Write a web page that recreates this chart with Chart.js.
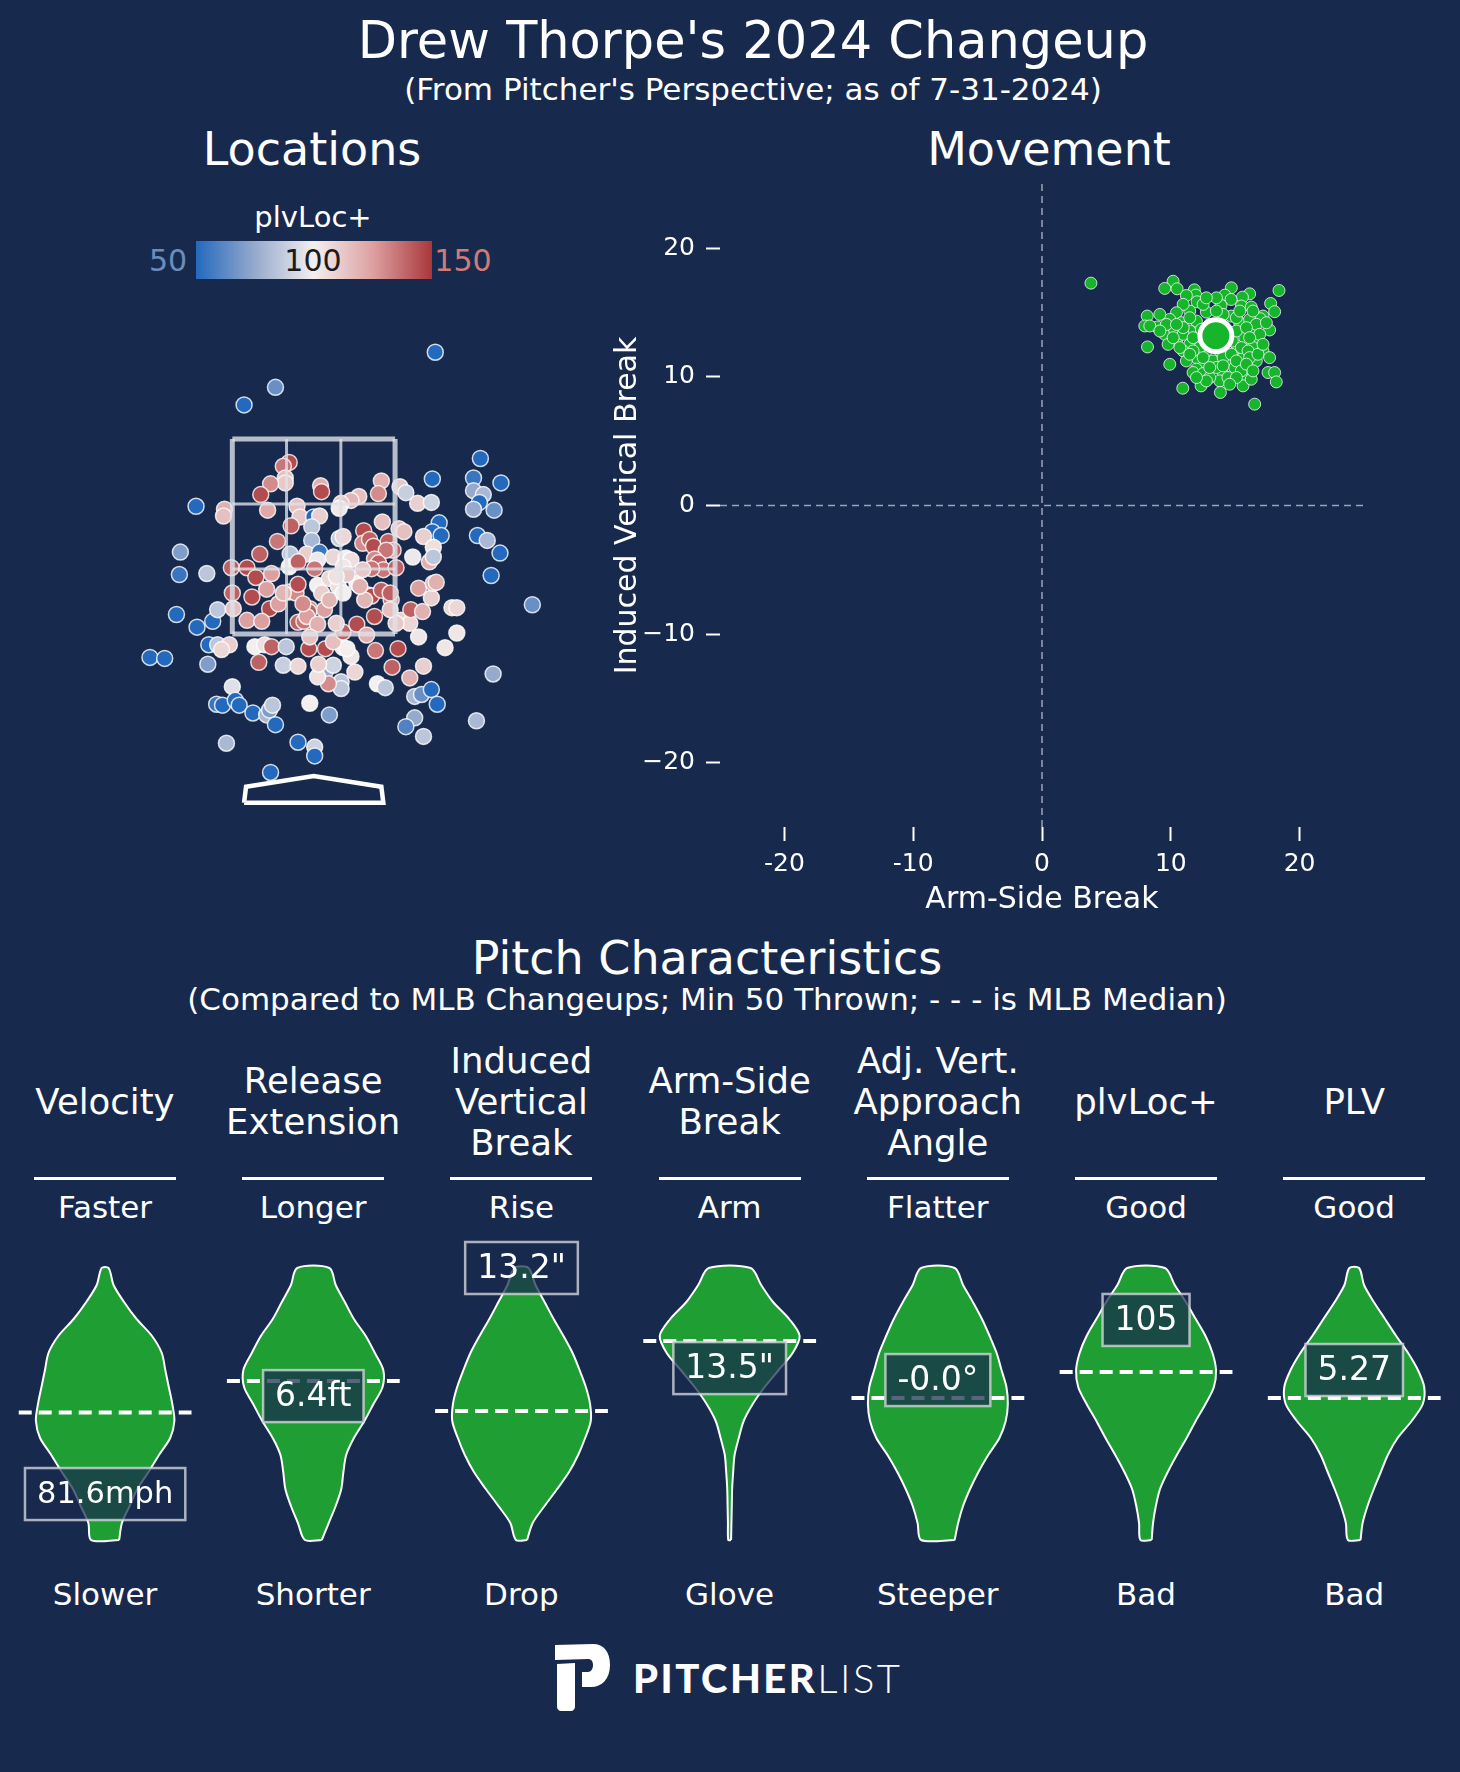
<!DOCTYPE html>
<html>
<head>
<meta charset="utf-8">
<script src="https://cdn.jsdelivr.net/npm/chart.js@4.4.1/dist/chart.umd.min.js"></script>
<style>
html, body { margin: 0; padding: 0; background: #172a4e; }
#page { position: relative; width: 1460px; height: 1772px; background: #172a4e; overflow: hidden; font-family: "DejaVu Sans", sans-serif; color: #fff; }
.t { position: absolute; transform: translate(-50%, -50%); white-space: pre; text-align: center; line-height: 1.15; }
canvas { position: absolute; }
.rule { position: absolute; height: 3px; width: 142px; background: #fff; transform: translateX(-50%); }
</style>
</head>
<body>
<div id="page">
  <div class="t" style="left:753px;top:41px;font-size:51px">Drew Thorpe's 2024 Changeup</div>
  <div class="t" style="left:753px;top:90px;font-size:31px">(From Pitcher's Perspective; as of 7-31-2024)</div>
  <div class="t" style="left:312px;top:149px;font-size:46px">Locations</div>
  <div class="t" style="left:1049px;top:149px;font-size:46px">Movement</div>

  <div class="t" style="left:313px;top:218px;font-size:29px">plvLoc+</div>
  <div id="cbar" style="position:absolute;left:196px;top:241px;width:236px;height:38px"></div>
  <div class="t" style="left:168px;top:261px;font-size:30px;color:#6c8cbd">50</div>
  <div class="t" style="left:313px;top:261px;font-size:30px;color:#1b1b1b">100</div>
  <div class="t" style="left:463px;top:261px;font-size:30px;color:#cf7b78">150</div>

  <canvas id="locChart" width="451" height="507" style="left:98px;top:322px"></canvas>
  <canvas id="movChart" width="770" height="760" style="left:610px;top:170px"></canvas>

  <div class="t" style="left:707px;top:958px;font-size:46px">Pitch Characteristics</div>
  <div class="t" style="left:707px;top:1000px;font-size:31px">(Compared to MLB Changeups; Min 50 Thrown; - - - is MLB Median)</div>

  <div id="bottomText"></div>
  <canvas id="violinChart" width="1460" height="330" style="left:0px;top:1230px"></canvas>

  <svg style="position:absolute;left:553px;top:1644px" width="58" height="68" viewBox="0 0 58 68">
    <path fill="#fff" d="M2,1 L40,0 C51,0 57,8 57,21 C57,35 49,43 38,43 L29,43 L29,28 L35,28 C38,28 40,25 40,21 C40,17 38,15 35,15 L2,16 Z"/>
    <path fill="#fff" d="M4,20 L22,19 L22,63 C22,65 20,67 18,67 L8,67 C6,67 4,65 4,63 Z"/>
  </svg>
  <div style="position:absolute;left:633px;top:1654px;font-family:Lato,'Open Sans',sans-serif;font-size:40px;letter-spacing:2.5px;line-height:48px;white-space:pre"><span style="font-weight:900">PITCHER</span><span style="font-weight:300">LIST</span></div>
</div>

<script>
// ---- pitch locations (feet) ----
const locX = [
  1.24, -0.39, -0.71, 1.70, 1.21, 1.63, 1.91, 1.63, 1.73, 1.69, 1.63, 1.84, 1.28, 1.21, 1.30, 1.67, 1.77, 1.90, 1.81, 2.23,
  -1.20, -1.36, -1.37, -1.09, -1.40, -1.19, -1.03, -0.98, -1.07, -1.67, -1.52, -1.08, -0.98,
  -0.83, -0.99, -0.93, -0.80, -0.76, -0.62, -0.48, -0.45, -0.42, -0.39, -0.89, -0.16, 0.01, 0.01, -0.44, -0.04, 0.16,
  0.28, 0.28, 0.12, 0.20, 0.42, 0.15, 0.04, 0.65, 0.73, 1.03, 1.10, 1.20, 1.26, 1.03, 0.94, 1.12, 1.66, 1.83,
  1.12, 0.98, 0.80, 0.63, 0.86, 1.07, 1.34, 1.46, 1.41, 1.46, 0.89, 0.98, 0.84,
  -0.60, -0.50, -0.43, -0.28, -0.56, -0.31, -0.16, -0.86, -0.94, -0.05, 0.12, 0.30, 0.38, 0.34, 0.20, 0.30, 0.44, 0.54, 0.05,
  -0.25, -0.31, -0.29, -0.29, -0.44, -0.54, 0.07, 0.08, 0.69, 0.66, 0.88, 0.94, 0.46, 0.38, 0.28, 0.26, 1.06, 1.20,
  -0.91, -0.92, -0.47, -0.17, -0.14, 0.00, 0.06,
  -0.02, -0.23, 0.70, 0.87, 0.92, 0.51, 1.12, 1.22, -0.37, -0.02, 0.26, 0.30, 0.50, 0.57, 0.61, 0.76, 0.81, 0.74,
  -0.55, -0.24, -0.07, 0.06, 0.20, 0.04, 0.33, 0.38, 0.62, 0.66, 1.01, 1.18, 1.22,
  -0.84, -0.68, -0.59, -0.43, -0.25, -0.16, 0.01, 0.30, 0.71, 0.84, 0.59,
  -0.83, -0.63, -0.48, -0.25, -0.18, -0.16, 0.04, 0.08, 0.16, 0.25, 0.44, 0.34, 0.56, 0.59, 0.52, 0.69, 0.79, 0.78,
  1.07, 1.20, 1.22, 1.25, -0.82, -0.45, -0.36, -0.04, -0.05, 0.11, 0.16, 0.30, 0.99, 1.11,
  -0.68, -0.53, -0.16, -0.10, -0.07, 0.04, 0.62, 0.78, -0.04, 0.23, 0.47, 0.50, -0.11, -0.31, 0.23
];
const locZ = [
  4.39, 4.03, 3.85, 3.30, 3.09, 3.10, 3.05, 2.97, 2.93, 2.85, 2.78, 2.77, 2.64, 2.55, 2.51, 2.51, 2.46, 2.33, 2.10, 1.80,
  2.81, 2.34, 2.11, 2.12, 1.70, 1.57, 1.63, 1.75, 1.39, 1.26, 1.25, 1.19, 1.39,
  0.96, 0.78, 0.77, 0.82, 0.77, 0.69, 0.67, 0.72, 0.77, 0.57, 0.38, 0.39, 0.34, 0.25, 0.08, 0.79, 0.67,
  1.01, 0.94, 1.12, 1.18, 1.11, 0.99, 1.06, 0.99, 0.95, 0.86, 0.88, 0.93, 0.78, 0.64, 0.55, 0.45, 0.61, 1.09,
  1.17, 1.05, 1.16, 1.33, 1.35, 1.47, 1.36, 1.51, 1.77, 1.77, 1.64, 1.61, 1.61,
  1.37, 1.39, 1.37, 1.37, 1.21, 1.18, 1.17, 1.39, 1.34, 1.35, 1.35, 1.36, 1.27, 1.35, 1.42, 1.52, 1.60, 1.49, 1.19,
  3.26, 3.22, 3.10, 3.05, 3.04, 2.93, 3.02, 2.96, 3.07, 2.94, 3.01, 2.95, 2.91, 2.87, 2.84, 2.79, 2.84, 2.85,
  2.78, 2.71, 2.77, 2.81, 2.70, 2.70, 2.71,
  2.60, 2.61, 2.65, 2.58, 2.55, 2.56, 2.50, 2.39, 2.45, 2.46, 2.48, 2.50, 2.43, 2.47, 2.40, 2.45, 2.36, 2.36,
  2.32, 2.32, 2.32, 2.34, 2.29, 2.26, 2.28, 2.26, 2.27, 2.23, 2.29, 2.24, 2.29,
  2.18, 2.18, 2.08, 2.12, 2.19, 2.24, 2.17, 2.19, 2.16, 2.18, 2.17,
  1.92, 1.88, 1.96, 1.93, 1.92, 2.01, 2.00, 1.92, 2.07, 1.99, 2.02, 2.11, 1.90, 1.89, 1.85, 1.95, 1.85, 1.92,
  1.97, 1.87, 2.02, 2.03, 1.76, 1.76, 1.81, 1.76, 1.73, 1.75, 1.85, 1.92, 1.75, 1.73,
  1.64, 1.63, 1.62, 1.63, 1.68, 1.60, 1.68, 1.75, 1.47, 2.09, 1.99, 2.16, 1.81, 1.92, 1.61
];
const locPlv = [
  50, 65, 50, 50, 50, 55, 50, 75, 80, 50, 75, 65, 50, 50, 50, 50, 80, 50, 50, 65,
  50, 70, 55, 85, 50, 50, 50, 85, 50, 50, 50, 70, 85,
  95, 55, 50, 50, 50, 50, 80, 70, 85, 50, 80, 50, 90, 50, 50, 100, 70,
  85, 85, 75, 90, 108, 130, 105, 100, 85, 80, 65, 50, 50, 75, 60, 85, 80, 75,
  110, 120, 140, 135, 145, 103, 103, 103, 108, 108, 110, 108, 112,
  100, 105, 140, 85, 140, 88, 108, 110, 108, 145, 145, 100, 103, 100, 115, 140, 145, 120, 110,
  145, 135, 115, 112, 130, 145, 120, 145, 120, 130, 112, 88, 115, 118, 112, 102, 110, 90,
  120, 115, 122, 115, 112, 50, 110,
  85, 140, 115, 118, 115, 145, 110, 105, 135, 80, 88, 108, 130, 140, 145, 140, 140, 135,
  140, 85, 110, 55, 108, 98, 100, 105, 130, 140, 98, 120, 85,
  140, 145, 145, 125, 100, 140, 135, 102, 135, 140, 135,
  140, 145, 125, 125, 130, 145, 100, 110, 108, 105, 100, 112, 130, 145, 118, 140, 135, 140,
  125, 110, 120, 120, 115, 145, 125, 130, 140, 125, 118, 100, 140, 120,
  125, 125, 140, 135, 125, 120, 145, 115, 115, 104, 120, 112, 130, 118, 110
];
const zoneX = [-0.83, -0.277, 0.277, 0.83];
const zoneZ = [1.5, 2.167, 2.833, 3.5];
const plateX = [-0.71, 0.71, 0.69, 0, -0.69, -0.71];
const plateZ = [-0.23, -0.23, -0.066, 0.044, -0.066, -0.23];

// ---- movement (inches) ----
const armSideBreak = [
  3.80, 10.18, 9.53, 10.49, 11.83, 11.94, 11.21, 12.04, 14.70, 14.19, 16.12, 15.56, 18.40, 14.68, 13.90, 15.48, 16.25, 17.75,
  18.06, 17.16, 16.95, 12.76, 11.47, 10.96, 10.44, 9.92, 9.15, 8.17, 7.98, 8.94, 9.53, 10.31, 10.83, 11.99, 11.47, 16.38,
  17.67, 15.35, 14.70, 16.12, 15.74, 16.64, 16.38, 17.16, 15.09, 14.44, 15.61, 16.12, 16.64, 14.06, 14.96, 15.87, 13.80,
  14.44, 13.28, 12.51, 11.99, 11.47, 10.96, 11.21, 11.99, 11.73, 12.51, 13.02, 13.54, 15.61, 16.25, 17.55, 18.06, 18.19,
  16.51, 13.85, 12.35, 10.93, 9.92, 8.19, 10.44, 10.70, 9.79, 12.76, 8.37, 13.80, 13.02, 12.76, 16.64, 16.90, 14.78, 15.09,
  10.96, 11.73, 12.38, 12.25, 11.73, 12.51, 14.06, 14.70, 15.48, 16.00, 15.09, 16.12, 16.77, 17.16, 17.42, 15.87, 15.09,
  14.06, 13.54, 12.51, 11.47, 10.96, 10.18, 9.66, 11.47, 13.02, 14.06, 15.48, 15.09, 14.57, 15.87, 16.38, 12.76, 11.99,
  17.67, 16.12, 15.35, 16.38, 13.54, 12.76, 10.44, 9.15
];
const inducedVertBreak = [
  17.29, 17.44, 16.88, 16.85, 16.77, 16.36, 16.33, 15.84, 16.93, 16.36, 16.46, 16.20, 16.72, 16.02, 15.56, 15.51, 15.43, 15.71,
  15.07, 14.73, 14.52, 15.04, 15.12, 15.64, 14.99, 14.47, 14.86, 14.73, 13.96, 13.88, 13.31, 13.57, 14.21, 14.34, 13.57, 13.70,
  13.65, 14.21, 14.73, 14.47, 13.05, 12.79, 12.28, 12.02, 12.02, 11.24, 11.50, 10.73, 11.24, 10.21, 10.73, 9.95, 9.69,
  9.95, 11.24, 10.86, 11.50, 12.53, 12.02, 11.24, 10.60, 10.34, 10.26, 9.95, 10.73, 9.30, 9.82, 10.34, 10.34, 9.61,
  7.88, 8.79, 9.30, 9.12, 10.98, 12.33, 12.79, 12.28, 12.53, 12.02, 13.96, 12.02, 14.09, 12.79, 14.09, 13.31, 12.79, 13.57,
  13.31, 13.05, 13.70, 12.28, 12.02, 11.50, 11.50, 11.76, 12.28, 12.02, 11.24, 11.50, 11.76, 12.53, 14.21, 13.83, 14.60,
  14.86, 15.12, 15.64, 14.60, 13.83, 13.05, 14.08, 11.76, 10.73, 10.86, 10.47, 9.95, 9.43, 10.99, 10.47, 9.69, 9.95,
  11.50, 13.05, 15.12, 15.12, 16.15, 16.15, 14.08, 13.57
];
const meanArmSide = 13.5;
const meanIVB = 13.2;
const moveTicks = [-20, -10, 0, 10, 20];

// ---- pitch characteristic violins ----
const metricNames = ['Velocity', 'Release\nExtension', 'Induced\nVertical\nBreak', 'Arm-Side\nBreak', 'Adj. Vert.\nApproach\nAngle', 'plvLoc+', 'PLV'];
const topLabels = ['Faster', 'Longer', 'Rise', 'Arm', 'Flatter', 'Good', 'Good'];
const bottomLabels = ['Slower', 'Shorter', 'Drop', 'Glove', 'Steeper', 'Bad', 'Bad'];
const valueLabels = ['81.6mph', '6.4ft', '13.2"', '13.5"', '-0.0°', '105', '5.27'];
const valueLevels = [0.169, 0.529, 1.0, 0.632, 0.588, 0.809, 0.625];
const medianLevels = [0.469, 0.585, 0.474, 0.732, 0.522, 0.618, 0.522];
const violinLevels = [0, 0.0625, 0.125, 0.1875, 0.25, 0.3125, 0.375, 0.4375, 0.5, 0.5625, 0.625, 0.6875, 0.75, 0.8125, 0.875, 0.9375, 1];
const violinWidths = [
  [0.20, 0.24, 0.35, 0.46, 0.62, 0.77, 0.93, 0.99, 0.96, 0.91, 0.86, 0.81, 0.67, 0.45, 0.27, 0.12, 0.05],
  [0.12, 0.22, 0.32, 0.40, 0.43, 0.47, 0.58, 0.73, 0.86, 0.99, 1.00, 0.88, 0.75, 0.58, 0.45, 0.32, 0.23],
  [0.08, 0.16, 0.33, 0.51, 0.68, 0.81, 0.91, 0.99, 0.98, 0.92, 0.83, 0.73, 0.60, 0.46, 0.33, 0.20, 0.10],
  [0.02, 0.025, 0.03, 0.035, 0.05, 0.07, 0.13, 0.20, 0.33, 0.50, 0.70, 0.90, 1.00, 0.85, 0.62, 0.45, 0.30],
  [0.24, 0.29, 0.36, 0.46, 0.58, 0.72, 0.88, 0.97, 1.00, 0.98, 0.91, 0.84, 0.74, 0.63, 0.50, 0.36, 0.24],
  [0.08, 0.10, 0.14, 0.20, 0.31, 0.44, 0.58, 0.71, 0.85, 0.97, 1.00, 0.95, 0.85, 0.71, 0.57, 0.41, 0.27],
  [0.09, 0.12, 0.19, 0.28, 0.38, 0.48, 0.62, 0.82, 0.98, 1.00, 0.91, 0.77, 0.60, 0.44, 0.28, 0.14, 0.07]
];

const BG = '#172a4e';
const GREEN_DOT = '#17b52b';
const GREEN_VIOLIN = '#1f9e34';
const boxFontSizes = [30.5, 33, 33, 33, 33, 33, 33];
const plvStops = [[50, [35, 105, 189]], [75, [150, 170, 205]], [100, [243, 239, 239]], [125, [221, 160, 160]], [150, [169, 55, 59]]];

Chart.defaults.font.family = '"DejaVu Sans", sans-serif';
Chart.defaults.color = '#fff';

function plvColor(v) {
  v = Math.max(50, Math.min(150, v));
  for (let i = 0; i < plvStops.length - 1; i++) {
    const [a, ca] = plvStops[i], [b, cb] = plvStops[i + 1];
    if (v <= b) {
      const f = (v - a) / (b - a);
      const c = ca.map((x, k) => Math.round(x + (cb[k] - x) * f));
      return `rgb(${c[0]},${c[1]},${c[2]})`;
    }
  }
}

document.getElementById('cbar').style.background =
  'linear-gradient(to right,' + plvStops.map(s => `rgb(${s[1].join(',')}) ${(s[0] - 50)}%`).join(',') + ')';

// ---------- Locations ----------
const zoneLines = [];
zoneX.forEach((x, i) => zoneLines.push({
  type: 'line', data: [{x, y: zoneZ[0]}, {x, y: zoneZ[3]}],
  borderColor: 'rgba(222,225,232,0.8)', borderWidth: (i === 0 || i === 3) ? 5 : 3, pointRadius: 0, order: 0
}));
zoneZ.forEach((y, i) => zoneLines.push({
  type: 'line', data: [{x: zoneX[0], y}, {x: zoneX[3], y}],
  borderColor: 'rgba(222,225,232,0.8)', borderWidth: (i === 0 || i === 3) ? 5 : 3, pointRadius: 0, order: 0
}));

new Chart(document.getElementById('locChart'), {
  type: 'scatter',
  data: {
    datasets: [
      ...zoneLines,
      {
        type: 'line', data: plateX.map((x, i) => ({x, y: plateZ[i]})),
        borderColor: '#fff', borderWidth: 4.5, pointRadius: 0, order: 0, borderJoinStyle: 'miter'
      },
      {
        data: locX.map((x, i) => ({x, y: locZ[i]})),
        backgroundColor: locPlv.map(plvColor),
        borderColor: 'rgba(255,255,255,0.8)', borderWidth: 1.5,
        pointRadius: 8, order: 1, clip: false
      }
    ]
  },
  options: {
    responsive: false, animation: false, events: [],
    layout: {padding: 0, autoPadding: false},
    plugins: {legend: {display: false}, tooltip: {enabled: false}},
    scales: {
      x: {type: 'linear', min: -2.2, max: 2.4, display: false},
      y: {type: 'linear', min: -0.5, max: 4.7, display: false}
    }
  }
});

// ---------- Movement ----------
const tickFont = {size: 25};
new Chart(document.getElementById('movChart'), {
  type: 'scatter',
  data: {
    datasets: [
      {
        data: [{x: meanArmSide, y: meanIVB}],
        backgroundColor: GREEN_DOT, borderColor: '#fff', borderWidth: 5,
        pointRadius: 16, order: 0, clip: false
      },
      {
        data: armSideBreak.map((x, i) => ({x, y: inducedVertBreak[i]})),
        backgroundColor: GREEN_DOT, borderColor: 'rgba(255,255,255,0.75)', borderWidth: 1,
        pointRadius: 6, order: 1, clip: false
      },
      {
        type: 'line', data: [{x: -25, y: 0}, {x: 25, y: 0}],
        borderColor: 'rgba(200,204,214,0.75)', borderWidth: 1.5, borderDash: [7, 5], pointRadius: 0, order: 2
      },
      {
        type: 'line', data: [{x: 0, y: -25}, {x: 0, y: 25}],
        borderColor: 'rgba(200,204,214,0.75)', borderWidth: 1.5, borderDash: [7, 5], pointRadius: 0, order: 2
      }
    ]
  },
  options: {
    responsive: false, animation: false, events: [],
    layout: {padding: {left: 0, right: 16, top: 14, bottom: 0}, autoPadding: false},
    plugins: {legend: {display: false}, tooltip: {enabled: false}},
    scales: {
      x: {
        type: 'linear', min: -25, max: 25,
        afterFit: s => { s.height = 103; s.paddingLeft = 0; s.paddingRight = 0; },
        afterBuildTicks: s => { s.ticks = moveTicks.map(v => ({value: v})); },
        border: {display: false},
        grid: {drawOnChartArea: false, drawTicks: true, tickLength: 14, tickColor: '#fff', tickWidth: 2},
        ticks: {font: tickFont, padding: 8, color: '#fff', maxRotation: 0, callback: v => String(v)},
        title: {display: true, text: 'Arm-Side Break', font: {size: 30}, color: '#fff', padding: {top: 0, bottom: 12}}
      },
      y: {
        type: 'linear', min: -25, max: 25,
        afterFit: s => { s.width = 110; s.paddingTop = 0; s.paddingBottom = 0; },
        afterBuildTicks: s => { s.ticks = moveTicks.map(v => ({value: v})); },
        border: {display: false},
        grid: {drawOnChartArea: false, drawTicks: true, tickLength: 14, tickColor: '#fff', tickWidth: 2},
        ticks: {font: tickFont, padding: 11, color: '#fff', callback: v => String(v).replace('-', '\u2212')},
        title: {display: true, text: 'Induced Vertical Break', font: {size: 30}, color: '#fff', padding: {top: 0, bottom: 0}}
      }
    }
  }
});

// ---------- Pitch characteristics text ----------
const colCenter = i => 105 + 208.2 * i;
let html = '';
metricNames.forEach((name, i) => {
  const cx = colCenter(i);
  html += `<div class="t" style="left:${cx}px;top:1102px;font-size:35.5px">${name}</div>`;
  html += `<div class="rule" style="left:${cx}px;top:1177px"></div>`;
  html += `<div class="t" style="left:${cx}px;top:1208px;font-size:31px">${topLabels[i]}</div>`;
  html += `<div class="t" style="left:${cx}px;top:1595px;font-size:31px">${bottomLabels[i]}</div>`;
});
document.getElementById('bottomText').innerHTML = html;

// ---------- Violins ----------
const HALF_W = 0.336;
const DASH_HALF = 0.415;
const violinSets = violinWidths.map((w, i) => {
  const pts = [];
  violinLevels.forEach((t, k) => pts.push({x: i + w[k] * HALF_W, y: t}));
  for (let k = violinLevels.length - 1; k >= 0; k--) pts.push({x: i - w[k] * HALF_W, y: violinLevels[k]});
  pts.push(pts[0]);
  return {
    type: 'line', data: pts, fill: 'shape',
    backgroundColor: GREEN_VIOLIN, borderColor: '#fff', borderWidth: 2,
    pointRadius: 0, tension: 0.3, order: 2
  };
});
const medianSets = medianLevels.map((m, i) => ({
  type: 'line', data: [{x: i - DASH_HALF, y: m}, {x: i + DASH_HALF, y: m}],
  borderColor: '#fff', borderWidth: 4, borderDash: [13, 7], pointRadius: 0, order: 1
}));

const valueBoxes = {
  id: 'valueBoxes',
  afterDatasetsDraw(chart) {
    const {ctx} = chart;
    const xs = chart.scales.x, ys = chart.scales.y;
    ctx.save();
    ctx.textAlign = 'center';
    ctx.textBaseline = 'middle';
    valueLabels.forEach((txt, i) => {
      ctx.font = boxFontSizes[i] + 'px "DejaVu Sans"';
      const cx = xs.getPixelForValue(i);
      const cy = ys.getPixelForValue(valueLevels[i]);
      const w = ctx.measureText(txt).width + 24, h = 52;
      ctx.fillStyle = 'rgba(23,42,78,0.72)';
      ctx.fillRect(cx - w / 2, cy - h / 2, w, h);
      ctx.strokeStyle = 'rgba(210,212,218,0.8)';
      ctx.lineWidth = 2.5;
      ctx.strokeRect(cx - w / 2, cy - h / 2, w, h);
      ctx.fillStyle = '#fff';
      ctx.fillText(txt, cx, cy + 1);
    });
    ctx.restore();
  }
};

new Chart(document.getElementById('violinChart'), {
  type: 'scatter',
  data: {datasets: [...medianSets, ...violinSets]},
  options: {
    responsive: false, animation: false, events: [],
    layout: {padding: 0, autoPadding: false},
    plugins: {legend: {display: false}, tooltip: {enabled: false}},
    scales: {
      x: {type: 'linear', min: -0.505, max: 6.508, display: false},
      y: {type: 'linear', min: -0.0735, max: 1.1397, display: false}
    }
  },
  plugins: [valueBoxes]
});
</script>
</body>
</html>
